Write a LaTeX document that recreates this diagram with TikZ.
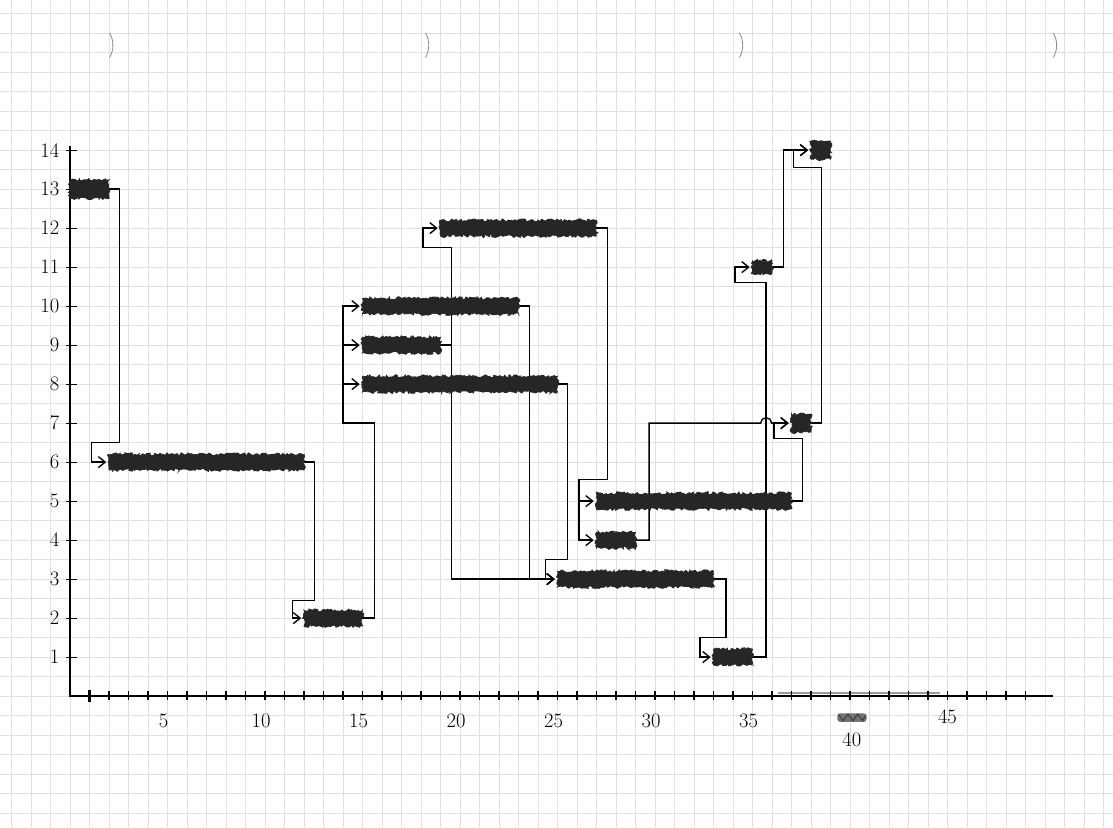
\documentclass[tikz,border=0pt]{standalone}
\usepackage{tikz}
\usetikzlibrary{arrows.meta, positioning, calc, backgrounds, decorations.pathmorphing}

\begin{document}
\begin{tikzpicture}[
    x = 0.5cm, y = 1cm,
    font = \fontsize{15}{17}\selectfont,
    bar/.style      = {fill=black!85, draw=black!85, line width=0.6pt,
                       inner sep=0pt, outer sep=0pt, minimum height=0.4cm,
                       anchor=west, decorate,
                       decoration={random steps, segment length=1.2pt, amplitude=1.1pt}},
    conn/.style     = {-{Straight Barb[length=5pt, width=8pt]}, line width=1pt,
                       shorten >=2pt},
    axis/.style     = {line width=1.3pt},
    tick/.style     = {line width=0.8pt},
    gridline/.style = {draw=black!12, line width=0.45pt},
    hole/.style     = {draw=black!45, line width=0.6pt},
  ]
  \useasboundingbox (-3.59,-3.36) rectangle (53.49,17.85);
  \begin{scope}[on background layer]
    \fill[white] (-3.59,-3.36) rectangle (53.49,17.85);
    \draw[gridline] (-3.59,-3.36) grid[xstep=0.5cm, ystep=0.5cm] (53.49,17.85);
  \end{scope}

  % punch holes
  \foreach \hx in {2.2,18.4,34.5,50.6}
    \draw[hole] ([xshift=-18pt]\hx,16.69) ++(-30:18pt) arc[start angle=-30, end angle=30, radius=18pt];

  % axes
  \draw[axis] (0,14.1) -- (0,0) -- (50.4,0);
  \draw[black!40, line width=1.4pt] (36.3,0.07) -- (44.6,0.07);
  \draw[line width=1.6pt] (1,0.15) -- (1,-0.14);
  \foreach \t in {2,...,49}
    \draw[tick] (\t,0.13) -- (\t,-0.1);
  \foreach \r in {1,...,14} {
    \draw[tick] (-0.2,\r) -- (0.35,\r);
    \node[left] (yl\r) at (-0.3,\r) {\r};
  }
  \foreach \t in {5,10,...,35}
    \node (xl\t) at (\t-0.2,-0.64) {\t};
  \fill[black!55, rounded corners=2pt] (39.35,-0.44) rectangle (40.85,-0.66);
  \draw[black!75, line width=0.8pt] (39.4,-0.47) -- (39.65,-0.63) -- (39.9,-0.46)
    -- (40.15,-0.63) -- (40.4,-0.46) -- (40.65,-0.63) -- (40.8,-0.5);
  \node (xl40) at (40.1,-1.13) {40};
  \node (xl45) at (45,-0.54) {45};

  % tasks
  \node[bar, minimum width=1cm, minimum height=0.48cm] (b13) at (0,13) {};
  \node[bar, minimum width=5cm] (b6) at (2,6) {};
  \node[bar, minimum width=1.5cm] (b2) at (12,2) {};
  \node[bar, minimum width=4cm] (b10) at (15,10) {};
  \node[bar, minimum width=2cm] (b9) at (15,9) {};
  \node[bar, minimum width=5cm] (b8) at (15,8) {};
  \node[bar, minimum width=4cm] (b12) at (19,12) {};
  \node[bar, minimum width=4cm] (b3) at (25,3) {};
  \node[bar, minimum width=5cm] (b5) at (27,5) {};
  \node[bar, minimum width=1cm] (b4) at (27,4) {};
  \node[bar, minimum width=1cm] (b1) at (33,1) {};
  \node[bar, minimum width=0.5cm, minimum height=0.32cm] (b11) at (35,11) {};
  \node[bar, minimum width=0.5cm, minimum height=0.46cm] (b7) at (37,7) {};
  \node[bar, minimum width=0.5cm, minimum height=0.46cm] (b14) at (38,14) {};

  % dependencies
  \begin{scope}[on background layer]
    \draw[conn] (b13.east) -- ++(0.55,0) |- ($(b6.west)+(-0.9,0.5)$) |- (b6.west);
    \draw[conn] (b6.east) -- ++(0.55,0) |- ($(b2.west)+(-0.6,0.45)$) |- (b2.west);
    \coordinate (j2) at ($(b2.east)+(-1,5)$);
    \draw[conn] (b2.east) -- ++(0.6,0) |- (j2) |- (b10.west);
    \draw[conn] (j2 |- b9.west) -- (b9.west);
    \draw[conn] (j2 |- b8.west) -- (b8.west);
    \draw[conn] (b9.east) -- ++(0.55,0) |- ($(b12.west)+(-0.9,-0.5)$) |- (b12.west);
    \draw[conn] (b9.east) -- ++(0.55,0) |- (b3.west);
    \draw[conn] (b10.east) -- ++(0.55,0) |- (b3.west);
    \draw[conn] (b8.east) -- ++(0.5,0) |- ($(b3.west)+(-0.6,0.5)$) |- (b3.west);
    \coordinate (j12) at ($(b5.west)+(-0.9,0.55)$);
    \draw[conn] (b12.east) -- ++(0.55,0) |- (j12) |- (b5.west);
    \draw[conn] (j12) |- (b4.west);
    \draw[conn] (b3.east) -- ++(0.65,0) |- ($(b1.west)+(-0.7,0.5)$) |- (b1.west);
    \draw[conn] (b1.east) -- ++(0.7,0) |- ($(b11.west)+(-0.9,-0.4)$) |- (b11.west);
    \coordinate (hop) at ($(b1.east |- b7.west)+(0.7,0)$);
    \draw[conn] (b4.east) -- ++(0.7,0) |- ([xshift=-4pt]hop)
      arc[start angle=180, end angle=0, radius=4pt] -- (b7.west);
    \draw[conn] (b5.east) -- ++(0.55,0) |- ($(b7.west)+(-0.9,-0.4)$) |- (b7.west);
    \draw[conn] (b11.east) -- ++(0.6,0) |- (b14.west);
    \draw[conn] (b7.east) -- ++(0.55,0) |- ($(b14.west)+(-0.9,-0.45)$) |- (b14.west);
  \end{scope}
\end{tikzpicture}
\end{document}
